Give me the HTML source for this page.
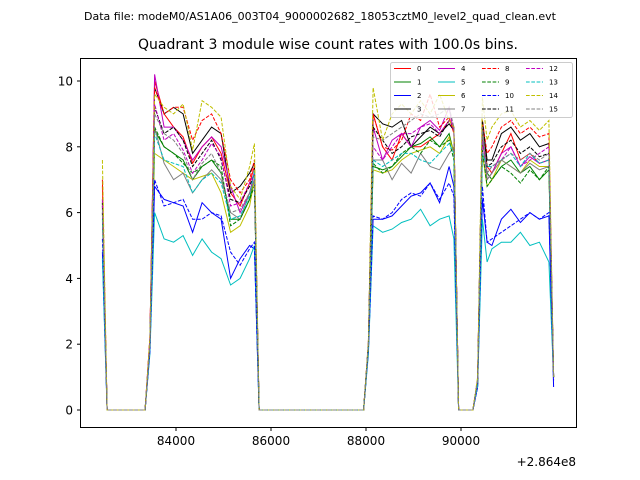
<!DOCTYPE html>
<html><head><meta charset="utf-8"><style>
body{margin:0;background:#fff}
svg{display:block;font-family:"DejaVu Sans","Liberation Sans",sans-serif}
</style></head><body>
<svg id="chart" width="640" height="480">
<rect width="640" height="480" fill="#fff"/>
<text x="320" y="20" font-size="11" text-anchor="middle">Data file: modeM0/AS1A06_003T04_9000002682_18053cztM0_level2_quad_clean.evt</text>
<text x="328" y="49" font-size="14" text-anchor="middle">Quadrant 3 module wise count rates with 100.0s bins.</text>
<g id="ticks"></g>
<g id="series"></g>
<rect x="80.5" y="58.5" width="496" height="369" fill="none" stroke="#000" stroke-width="1"/>
<text x="576" y="466" font-size="12" text-anchor="end">+2.864e8</text>
<g id="legend"></g>
</svg>
<script>
const times=[82450,82550,83350,83450,83550,83750,83950,84150,84350,84550,84750,84950,85150,85350,85550,85650,85750,87950,88050,88150,88350,88550,88750,88950,89150,89350,89550,89750,89850,89950,90250,90350,90450,90550,90650,90850,91050,91250,91450,91650,91850,91950];
const s0=[7.0,0,0,2.2,10.0,9.0,8.6,8.3,7.5,8.0,8.3,7.8,6.6,6.2,6.9,7.4,0,0,2.0,9.0,8.0,7.6,8.4,8.0,8.0,8.2,8.4,8.8,8.6,0,0,0.9,8.8,7.4,7.2,7.8,8.4,7.6,7.8,7.5,7.6,1.0];
const s1=[6.3,0,0,2.0,8.5,8.0,7.8,7.6,7.0,7.4,7.6,7.2,5.8,5.8,6.4,7.0,0,0,1.9,7.4,7.3,7.4,7.7,8.0,8.1,8.3,8.0,8.4,7.8,0,0,0.8,8.2,7.2,7.0,7.4,7.6,7.2,7.4,7.0,7.3,1.0];
const s2=[4.8,0,0,1.8,6.8,6.4,6.3,6.2,5.4,6.3,6.0,5.8,4.0,4.6,5.0,4.9,0,0,1.8,5.8,5.8,5.9,6.2,6.5,6.6,6.9,6.3,7.4,6.8,0,0,0.7,6.4,5.1,5.0,5.8,6.1,5.7,6.0,5.8,5.9,0.7];
const s3=[6.0,0,0,2.0,9.8,9.0,9.2,9.0,7.8,8.2,8.6,8.4,6.6,6.8,7.2,7.5,0,0,2.0,9.0,8.7,8.6,8.8,8.0,8.3,8.6,8.4,8.7,8.5,0,0,0.9,8.8,7.6,7.6,8.4,8.6,8.2,8.4,8.0,8.1,1.0];
const s4=[6.2,0,0,2.1,10.2,8.6,8.6,8.2,7.6,8.0,8.3,8.0,6.8,6.0,6.6,7.2,0,0,2.0,8.6,7.6,8.2,8.4,8.0,8.6,8.8,8.5,9.2,8.4,0,0,0.9,8.4,7.0,7.2,7.8,8.0,7.4,7.7,7.5,7.6,1.0];
const s5=[4.6,0,0,1.7,6.0,5.2,5.1,5.3,4.7,5.2,4.8,4.6,3.8,4.0,4.6,5.0,0,0,1.7,5.6,5.4,5.5,5.7,5.8,6.1,5.6,5.8,5.9,5.2,0,0,0.7,5.8,4.5,4.9,5.1,5.1,5.4,5.0,5.1,4.5,1.0];
const s6=[6.4,0,0,2.0,7.8,7.6,7.4,7.2,7.0,7.1,7.2,6.6,5.4,5.6,6.2,7.0,0,0,1.9,7.3,7.2,7.3,7.6,7.8,7.9,8.0,7.8,8.3,7.8,0,0,0.8,7.8,6.8,7.0,7.6,7.4,7.2,7.6,7.4,7.4,1.0];
const s7=[6.0,0,0,2.0,8.6,7.5,7.0,7.2,6.6,7.0,7.3,7.0,6.0,5.8,6.6,7.0,0,0,1.9,7.6,7.6,7.0,7.5,7.2,7.8,7.4,7.3,7.8,8.0,0,0,0.8,8.4,7.0,7.2,7.6,7.4,7.2,7.5,7.3,7.4,1.0];
const s8=[6.8,0,0,2.2,9.8,9.0,9.2,9.2,8.2,8.8,9.0,8.4,7.0,6.6,7.0,7.6,0,0,2.0,9.0,8.0,7.9,8.2,9.0,8.8,9.6,8.6,8.9,8.4,0,0,0.9,8.8,7.8,8.0,8.6,8.8,8.4,8.6,8.3,8.4,1.0];
const s9=[6.2,0,0,2.0,8.6,8.0,7.8,7.5,7.2,7.4,7.6,7.4,5.6,5.8,6.4,6.8,0,0,1.9,7.5,7.2,7.4,7.8,8.0,7.8,8.2,8.0,8.2,7.6,0,0,0.8,7.9,6.8,7.0,7.4,7.2,6.9,7.3,7.0,7.4,1.0];
const s10=[5.2,0,0,1.8,7.0,6.2,6.3,6.4,5.8,5.8,6.0,5.9,4.8,4.4,4.9,5.1,0,0,1.8,5.9,5.8,6.0,6.4,6.6,6.5,6.9,6.4,6.9,6.5,0,0,0.7,6.8,5.1,5.2,5.4,5.6,5.8,6.0,5.8,6.0,0.9];
const s11=[6.3,0,0,2.0,9.2,8.4,8.6,8.2,7.4,7.8,8.2,7.6,6.4,6.3,6.8,7.2,0,0,2.0,8.6,8.2,7.8,8.0,8.3,8.4,8.5,8.3,8.8,8.6,0,0,0.9,8.8,7.4,7.5,8.0,8.2,7.8,8.0,7.7,7.8,1.0];
const s12=[6.4,0,0,2.1,9.3,8.2,8.4,7.9,7.2,7.6,8.1,7.7,6.2,6.3,6.9,7.2,0,0,2.0,8.0,7.6,8.0,8.4,8.4,8.6,8.7,8.4,8.8,8.6,0,0,0.9,8.2,7.2,7.4,7.6,8.0,7.4,7.6,7.8,8.0,1.0];
const s13=[5.8,0,0,2.0,8.4,7.6,7.5,7.4,6.6,7.0,7.2,6.9,5.8,5.9,6.5,7.3,0,0,1.9,7.6,7.4,7.6,7.8,7.8,7.6,7.5,7.8,8.1,7.8,0,0,0.8,7.8,7.4,7.4,7.6,7.8,7.4,7.8,7.5,7.6,1.0];
const s14=[7.6,0,0,2.2,9.6,9.2,9.0,9.3,7.9,9.4,9.2,8.9,6.8,6.4,7.4,8.1,0,0,2.1,9.8,8.2,9.0,9.3,9.0,9.4,9.0,9.6,8.8,8.6,0,0,1.0,9.5,8.2,8.6,9.0,9.1,8.6,8.8,8.5,8.8,1.0];
const s15=[6.1,0,0,2.0,9.0,8.4,8.2,7.8,7.0,7.5,7.8,7.2,6.0,6.1,6.6,7.0,0,0,2.0,8.3,8.2,8.4,8.6,8.8,9.0,8.9,9.0,9.2,8.6,0,0,0.9,8.6,7.2,7.4,7.6,7.8,7.6,7.8,7.6,7.8,1.0];
const seriesList=[s0,s1,s2,s3,s4,s5,s6,s7,s8,s9,s10,s11,s12,s13,s14,s15];
const seriesLabels=["0","1","2","3","4","5","6","7","8","9","10","11","12","13","14","15"];
const xTicks=[84000,86000,88000,90000];
const yTicks=[0,2,4,6,8,10];

const colors=["#ff0000","#008000","#0000ff","#000000","#bf00bf","#00bfbf","#bfbf00","#808080"];
const NS="http://www.w3.org/2000/svg";
function xs(t){return 176+(t-84000)*0.0475;}
function ys(v){return 410-v*32.9;}
const tg=document.getElementById('ticks');
xTicks.forEach(t=>{
  const l=document.createElementNS(NS,'line');
  l.setAttribute('x1',xs(t));l.setAttribute('x2',xs(t));l.setAttribute('y1',427.5);l.setAttribute('y2',431);l.setAttribute('stroke','#000');
  
  
  tg.appendChild(l);
  const tx=document.createElementNS(NS,'text');
  tx.setAttribute('x',xs(t));tx.setAttribute('y',445);tx.setAttribute('font-size','12');tx.setAttribute('text-anchor','middle');
  tx.textContent=t;
  
  
  tg.appendChild(tx);
});
yTicks.forEach(v=>{
  const l=document.createElementNS(NS,'line');
  l.setAttribute('x1',77);l.setAttribute('x2',80.5);l.setAttribute('y1',ys(v));l.setAttribute('y2',ys(v));l.setAttribute('stroke','#000');
  
  
  tg.appendChild(l);
  const tx=document.createElementNS(NS,'text');
  tx.setAttribute('x',73);tx.setAttribute('y',ys(v)+4.5);tx.setAttribute('font-size','12');tx.setAttribute('text-anchor','end');
  tx.textContent=v;
  
  
  tg.appendChild(tx);
});
const sg=document.getElementById('series');
seriesList.forEach((arr,i)=>{
  const p=document.createElementNS(NS,'polyline');
  p.setAttribute('points',arr.map((v,k)=>xs(times[k]).toFixed(1)+','+ys(v).toFixed(1)).join(' '));
  p.setAttribute('fill','none');p.setAttribute('stroke',colors[i%8]);p.setAttribute('stroke-width','1');
  if(i>=8)p.setAttribute('stroke-dasharray','3.7,1.6');
  
  
  sg.appendChild(p);
});
const lg=document.getElementById('legend');
const box=document.createElementNS(NS,'rect');
box.setAttribute('x',390.5);box.setAttribute('y',62.5);box.setAttribute('width',182);box.setAttribute('height',55);box.setAttribute('rx',2);
box.setAttribute('fill','#fff');box.setAttribute('fill-opacity','0.8');box.setAttribute('stroke','#ccc');


lg.appendChild(box);
seriesLabels.forEach((lab,i)=>{
  const col=Math.floor(i/4),row=i%4;
  const x0=394+col*44,y0=68.5+row*13.5;
  const l=document.createElementNS(NS,'line');
  l.setAttribute('x1',x0);l.setAttribute('x2',x0+17);l.setAttribute('y1',y0);l.setAttribute('y2',y0);
  l.setAttribute('stroke',colors[i%8]);l.setAttribute('stroke-width','1');
  if(i>=8)l.setAttribute('stroke-dasharray','3.7,1.6');
  
  
  lg.appendChild(l);
  const t=document.createElementNS(NS,'text');
  t.setAttribute('x',x0+23);t.setAttribute('y',y0+2.5);t.setAttribute('font-size','7');
  t.textContent=lab;
  
  
  lg.appendChild(t);
});
</script>
</body></html>
